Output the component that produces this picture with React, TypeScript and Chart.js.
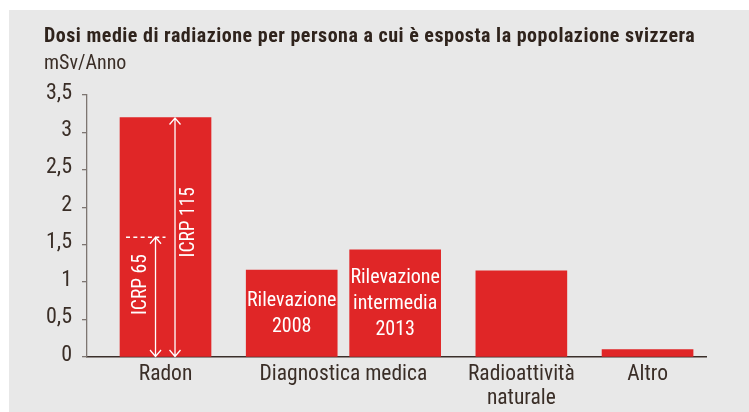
import React, { useEffect, useRef } from "react";
import { Chart, registerables } from "chart.js";

Chart.register(...registerables);

// ---- data ----
const titleText = "Dosi medie di radiazione per persona a cui è esposta la popolazione svizzera";
const unitText = "mSv/Anno";
const barValues = [3.2, 1.16, 1.43, 1.15, 0.1];
const barGroup = [0, 1, 1, 2, 3];
const groupLabels: string[][] = [["Radon"], ["Diagnostica medica"], ["Radioattività", "naturale"], ["Altro"]];
const barTexts: string[][] = [[], ["Rilevazione", "2008"], ["Rilevazione", "intermedia", "2013"], [], []];
const yTickValues = [0, 0.5, 1, 1.5, 2, 2.5, 3, 3.5];
const icrp65Value = 1.6;
const icrp115Value = 3.2;
const icrp65Label = "ICRP 65";
const icrp115Label = "ICRP 115";

// ---- styles / layout ----
const FONT = "'Roboto Condensed', 'Liberation Sans Narrow', 'DejaVu Sans Condensed', sans-serif";
const RED = "#e02627";
const TEXT = "#3a2e27";
const BG = "#e8e8e8";
const AXIS_GRAY = "#7d7571";
const GROUP_GAP = 0.22; // extra space between groups, in bar slots

function barPos(i: number): number {
  return i + GROUP_GAP * barGroup[i];
}

function groupCenter(g: number): number {
  const pos = barGroup.map((gg, i) => (gg === g ? barPos(i) : NaN)).filter((p) => !isNaN(p));
  return pos.reduce((a, b) => a + b, 0) / pos.length;
}

const annotationPlugin = {
  id: "annotations",
  afterDatasetsDraw(chart: any) {
    const ctx = chart.ctx as CanvasRenderingContext2D;
    const meta = chart.getDatasetMeta(0);
    const ys = chart.scales.y;
    ctx.save();
    // texts inside bars
    ctx.fillStyle = "#ffffff";
    ctx.font = `20px ${FONT}`;
    ctx.textAlign = "center";
    ctx.textBaseline = "middle";
    barTexts.forEach((lines, i) => {
      if (!lines.length) return;
      const bar = meta.data[i];
      const cy = (bar.y + bar.base) / 2 + 1;
      const lh = 26;
      lines.forEach((t, j) => ctx.fillText(t, bar.x, cy + (j - (lines.length - 1) / 2) * lh));
    });

    // ICRP arrows on Radon bar
    const bar = meta.data[0];
    const base = ys.getPixelForValue(0);
    const y115 = ys.getPixelForValue(icrp115Value);
    const y65 = ys.getPixelForValue(icrp65Value);
    const left = bar.x - bar.width / 2;
    ctx.strokeStyle = "#ffffff";
    ctx.lineWidth = 1.3;

    const arrow = (x: number, yTop: number, yBot: number) => {
      ctx.beginPath();
      ctx.moveTo(x, yTop);
      ctx.lineTo(x, yBot);
      ctx.moveTo(x - 5.5, yTop + 6.5);
      ctx.lineTo(x, yTop);
      ctx.lineTo(x + 5.5, yTop + 6.5);
      ctx.moveTo(x - 5.5, yBot - 6.5);
      ctx.lineTo(x, yBot);
      ctx.lineTo(x + 5.5, yBot - 6.5);
      ctx.stroke();
    };
    const x115 = bar.x + 9.5;
    const x65 = bar.x - 10;
    arrow(x115, y115 + 0.5, base - 0.5);
    arrow(x65, y65, base - 0.5);

    ctx.setLineDash([4, 3.3]);
    ctx.beginPath();
    ctx.moveTo(left + 6, y65);
    ctx.lineTo(bar.x, y65);
    ctx.stroke();
    ctx.setLineDash([]);

    ctx.font = `19.5px ${FONT}`;
    ctx.textAlign = "center";
    ctx.textBaseline = "middle";
    ctx.save();
    ctx.translate(bar.x + 24, (y115 + base) / 2 - 15);
    ctx.rotate(-Math.PI / 2);
    ctx.fillText(icrp115Label, 0, 0);
    ctx.restore();
    ctx.save();
    ctx.translate(bar.x - 24, (y65 + base) / 2 - 12.5);
    ctx.rotate(-Math.PI / 2);
    ctx.fillText(icrp65Label, 0, 0);
    ctx.restore();

    ctx.restore();
  },
  afterDraw(chart: any) {
    const ctx = chart.ctx as any;
    ctx.save();
    ctx.fillStyle = "#2f231c";
    ctx.textAlign = "left";
    ctx.textBaseline = "alphabetic";
    ctx.font = `bold 20px ${FONT}`;
    ctx.letterSpacing = "0.5px";
    ctx.fillText(titleText, 35, 31.7);
    ctx.letterSpacing = "0px";
    ctx.fillStyle = TEXT;
    ctx.font = `20px ${FONT}`;
    ctx.fillText(unitText, 35, 59);
    ctx.restore();
  },
};

export default function App() {
  const ref = useRef<HTMLCanvasElement | null>(null);
  useEffect(() => {
    if (!ref.current) return;
    const chart = new Chart(ref.current, {
      type: "bar",
      data: {
        datasets: [
          {
            data: barValues.map((v, i) => ({ x: barPos(i), y: v })) as any,
            backgroundColor: RED,
            borderWidth: 0,
            barThickness: 91,
          },
        ],
      },
      options: {
        animation: false,
        responsive: false,
        devicePixelRatio: 1,
        layout: { padding: { top: 85, right: 43, bottom: 0, left: 0 } },
        plugins: {
          legend: { display: false },
          tooltip: { enabled: false },
        },
        scales: {
          x: {
            type: "linear",
            min: -0.759,
            max: 5.225,
            offset: false,
            grid: { display: false, drawTicks: false, offset: false },
            border: { display: true, color: "#3a2f2a", width: 1.5 },
            afterBuildTicks: (scale: any) => {
              scale.ticks = groupLabels.map((_, g) => ({ value: groupCenter(g) }));
            },
            afterFit: (scale: any) => {
              scale.height = 55;
            },
            ticks: {
              autoSkip: false,
              maxRotation: 0,
              minRotation: 0,
              padding: 6,
              color: TEXT,
              font: { family: FONT, size: 21.5, lineHeight: 1.12 },
              callback: (_v: any, i: number) => groupLabels[i],
            },
          },
          y: {
            type: "linear",
            min: 0,
            max: 3.5,
            afterBuildTicks: (scale: any) => {
              scale.ticks = yTickValues.map((v) => ({ value: v }));
            },
            afterFit: (scale: any) => {
              scale.width = 78;
            },
            grid: { drawOnChartArea: false, drawTicks: true, tickLength: 5, color: AXIS_GRAY, lineWidth: 1.3 },
            border: { display: true, color: AXIS_GRAY, width: 1.3 },
            ticks: {
              padding: 10,
              labelOffset: -2,
              color: TEXT,
              font: { family: FONT, size: 22 },
              callback: (v: any) => String(v).replace(".", ","),
            },
          },
        },
      },
      plugins: [annotationPlugin],
    });
    return () => chart.destroy();
  }, []);

  return (
    <div style={{ position: "absolute", left: 9, top: 10, width: 740, height: 402, background: BG }}>
      <canvas ref={ref} width={740} height={402} style={{ display: "block", width: 740, height: 402 }} />
    </div>
  );
}
